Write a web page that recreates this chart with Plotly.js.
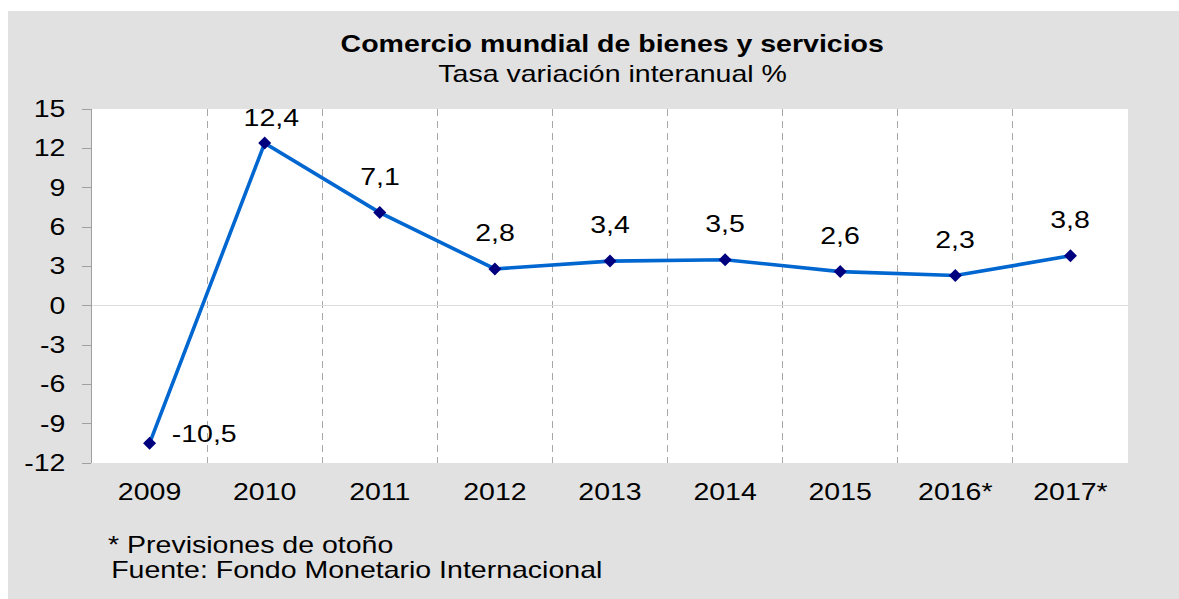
<!DOCTYPE html>
<html>
<head>
<meta charset="utf-8">
<script src="https://cdn.plot.ly/plotly-3.0.1.min.js"></script>
<style>
html,body{margin:0;padding:0;background:#fff;}
#chart{position:absolute;left:8px;top:11px;width:1171px;height:588px;}
</style>
</head>
<body>
<div id="chart"></div>
<script>
const years = ["2009","2010","2011","2012","2013","2014","2015","2016*","2017*"];
const values = [-10.5, 12.4, 7.1, 2.8, 3.4, 3.5, 2.6, 2.3, 3.8];
const valueLabels = ["-10,5","12,4","7,1","2,8","3,4","3,5","2,6","2,3","3,8"];
const yTicks = [-12,-9,-6,-3,0,3,6,9,12,15];

const xs = years.map((_, i) => i);
const font = "Liberation Sans, Arial, sans-serif";
const FS = 23;          // font size
const STRETCH = 1.24;   // horizontal text stretch of the original

const trace = {
  x: xs, y: values, type: "scatter", mode: "lines+markers",
  line: {color: "#0066d0", width: 3.6},
  marker: {symbol: "diamond", size: 10, color: "#00007f"},
  hoverinfo: "skip"
};

const annotations = values.map((v, i) => {
  const neg = v < 0;
  const nearTop = v > 12;
  return {
    x: xs[i], y: v, xref: "x", yref: "y", text: valueLabels[i], showarrow: false,
    yanchor: "middle",
    font: {family: font, size: FS, color: "#000"},
    xshift: neg ? 54 : (nearTop ? 7 : 0), yshift: neg ? 9 : (nearTop ? 25 : 36)
  };
});
annotations.push(
  {xref: "paper", yref: "paper", x: 0.502, y: 1, yanchor: "middle", yshift: 65, text: "<b>Comercio mundial de bienes y servicios</b>", showarrow: false, font: {family: font, size: FS, color: "#000"}},
  {xref: "paper", yref: "paper", x: 0.502, y: 1, yanchor: "middle", yshift: 35, text: "Tasa variación interanual %", showarrow: false, font: {family: font, size: FS, color: "#000"}},
  {xref: "paper", yref: "paper", x: 0, xanchor: "left", xshift: -84 + 98, y: 0, yanchor: "middle", yshift: -82, text: "* Previsiones de otoño", showarrow: false, font: {family: font, size: FS, color: "#000"}},
  {xref: "paper", yref: "paper", x: 0, xanchor: "left", xshift: -84 + 101, y: 0, yanchor: "middle", yshift: -107, text: "Fuente: Fondo Monetario Internacional", showarrow: false, font: {family: font, size: FS, color: "#000"}}
);

const layout = {
  width: 1171, height: 588,
  paper_bgcolor: "#e1e1e1", plot_bgcolor: "#ffffff",
  margin: {l: 84, r: 51, t: 98, b: 136},
  showlegend: false,
  font: {family: font, size: FS, color: "#000"},
  xaxis: {
    range: [-0.5, years.length - 0.5], tickmode: "array", tickvals: xs, ticktext: years,
    showgrid: false, zeroline: false, showline: false, ticks: "",
    ticklabelstandoff: 13,
    tickfont: {family: font, size: FS, color: "#000"},
    minor: {tick0: 0.5, dtick: 1, showgrid: true, gridcolor: "#a8a8a8", griddash: "7px,5px", gridwidth: 1, ticks: ""}
  },
  yaxis: {
    range: [-12, 15], tickmode: "array", tickvals: yTicks, ticktext: yTicks.map(String),
    showgrid: false, zeroline: true, zerolinecolor: "#dcdcdc", zerolinewidth: 1,
    showline: true, linecolor: "#a0a0a0", linewidth: 1,
    ticks: "outside", ticklen: 9, tickcolor: "#a0a0a0",
    ticklabelstandoff: 12,
    tickfont: {family: font, size: FS, color: "#000"}
  },
  annotations: annotations
};

function stretchText(gd, s) {
  const leftAnn = new Set();
  (gd.layout.annotations || []).forEach((a, i) => { if (a.xanchor === "left") leftAnn.add(String(i)); });
  gd.querySelectorAll("text").forEach(t => {
    const bb = t.getBBox();
    if (!bb.width) return;
    let mode = t.getAttribute("text-anchor") || "start";
    const ann = t.closest("g.annotation");
    if (ann) mode = leftAnn.has(ann.getAttribute("data-index")) ? "start" : "middle";
    const cx = mode === "middle" ? bb.x + bb.width / 2 : (mode === "end" ? bb.x + bb.width : bb.x);
    const tr = t.getAttribute("transform") || "";
    t.setAttribute("transform", tr + " translate(" + cx + ",0) scale(" + s + ",1) translate(" + (-cx) + ",0)");
  });
}

Plotly.newPlot("chart", [trace], layout, {displayModeBar: false, staticPlot: true})
  .then(gd => stretchText(gd, STRETCH));
</script>
</body>
</html>
